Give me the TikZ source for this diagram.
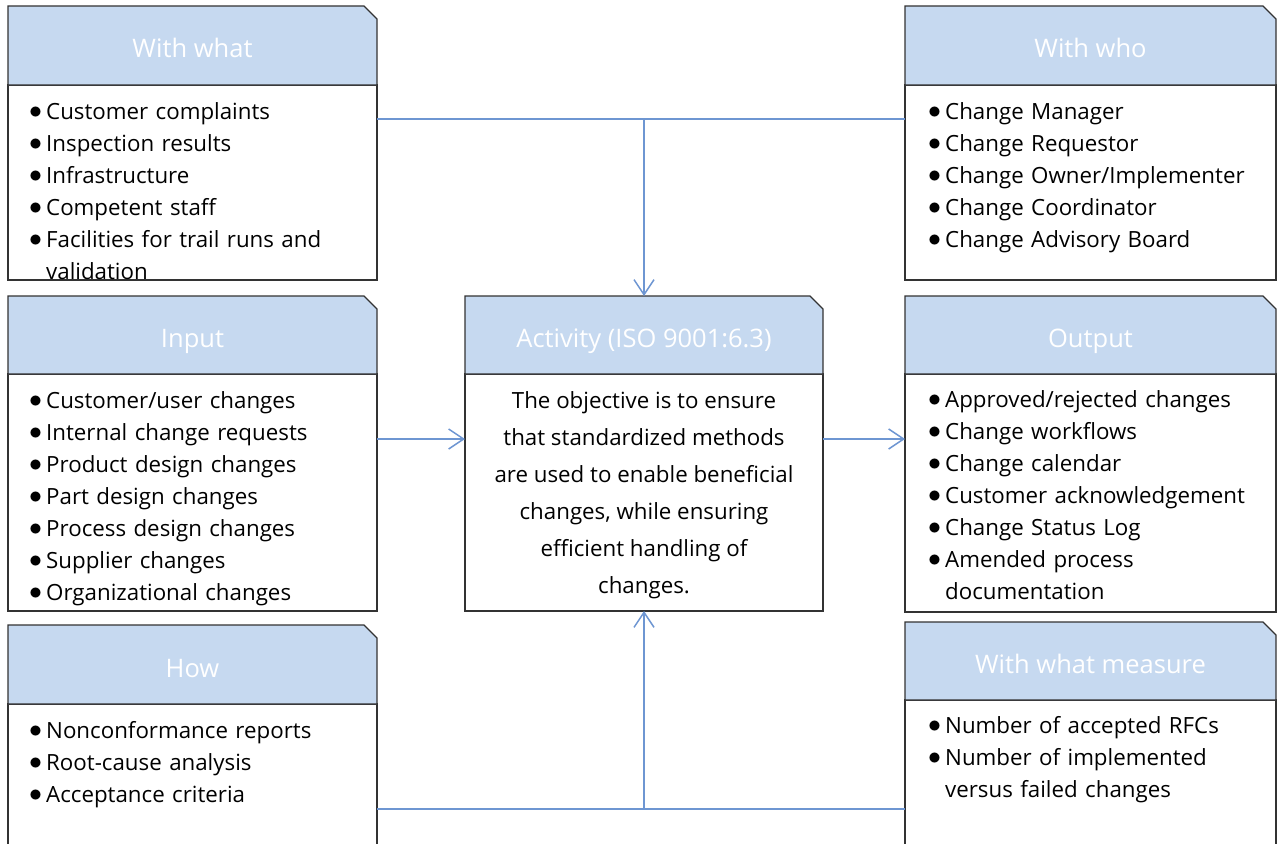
\documentclass[tikz,border=0pt]{standalone}
\usepackage{fontspec}
\setmainfont{Open Sans}
\usetikzlibrary{arrows.meta}
\usetikzlibrary{shapes.misc}
\definecolor{headblue}{RGB}{198,217,240}
\definecolor{linkblue}{RGB}{110,150,210}
\newcommand{\bitem}[1]{\par\hangindent=17pt\hangafter=1\noindent\strut\makebox[17pt][l]{\raisebox{1.5pt}{\scalebox{1.25}{$\bullet$}}}#1\par}
\tikzstyle{box} = [draw=black!80, line width=1.2pt, fill=white, chamfered rectangle, chamfered rectangle corners=north east, chamfered rectangle xsep=6.5pt, chamfered rectangle ysep=6.5pt, inner sep=0pt, outer sep=0pt]
\tikzstyle{head} = [box, fill=headblue, text=white, text height=25pt, text depth=0pt, font=\fontsize{25.5}{30}\selectfont]
\tikzstyle{list} = [anchor=north west, inner sep=0pt, text width=345pt, align=left, font=\fontsize{22.3}{32}\selectfont]
\tikzstyle{link} = [draw=linkblue, line width=1.5pt]
\tikzstyle{arrow} = [link, -{Straight Barb[length=15pt, width=20pt]}]

\begin{document}
\begin{tikzpicture}[x=1pt, y=-1pt]
	\clip (0,0) rectangle (1279,843);
	
	% bodies
	\node[box, minimum width=369pt, minimum height=195pt](whatbody) at (192.5, 182.5){};
	\node[box, minimum width=369pt, minimum height=237pt](inputbody) at (192.5, 492.5){};
	\node[box, minimum width=369pt, minimum height=196pt](howbody) at (192.5, 802){};
	\node[box, minimum width=358pt, minimum height=237pt](actbody) at (644, 492.5){};
	\node[box, minimum width=371pt, minimum height=195pt](whobody) at (1090.5, 182.5){};
	\node[box, minimum width=371pt, minimum height=238pt](outputbody) at (1090.5, 493){};
	\node[box, minimum width=371pt, minimum height=200pt](measurebody) at (1090.5, 800){};
	
	% headers
	\node[head, minimum width=369pt, minimum height=79pt](whathead) at (192.5, 45.5){With what};
	\node[head, minimum width=369pt, minimum height=78pt](inputhead) at (192.5, 335){Input};
	\node[head, minimum width=369pt, minimum height=79pt](howhead) at (192.5, 664.5){How};
	\node[head, minimum width=358pt, minimum height=78pt](acthead) at (644, 335){Activity (ISO 9001:6.3)};
	\node[head, minimum width=371pt, minimum height=79pt](whohead) at (1090.5, 45.5){With who};
	\node[head, minimum width=371pt, minimum height=78pt](outputhead) at (1090.5, 335){Output};
	\node[head, minimum width=371pt, minimum height=78pt](measurehead) at (1090.5, 661){With what measure};
	
	% lists
	\node[list](whatlist) at (29, 87.6){\bitem{Customer complaints}\bitem{Inspection results}\bitem{Infrastructure}\bitem{Competent staff}\bitem{Facilities for trail runs and\newline validation}};
	\node[list](inputlist) at (29, 376.6){\bitem{Customer/user changes}\bitem{Internal change requests}\bitem{Product design changes}\bitem{Part design changes}\bitem{Process design changes}\bitem{Supplier changes}\bitem{Organizational changes}};
	\node[list](howlist) at (29, 706.6){\bitem{Nonconformance reports}\bitem{Root-cause analysis}\bitem{Acceptance criteria}};
	\node[list](wholist) at (928, 87.6){\bitem{Change Manager}\bitem{Change Requestor}\bitem{Change Owner/Implementer}\bitem{Change Coordinator}\bitem{Change Advisory Board}};
	\node[list](outputlist) at (928, 375.6){\bitem{Approved/rejected changes}\bitem{Change workflows}\bitem{Change calendar}\bitem{Customer acknowledgement}\bitem{Change Status Log}\bitem{Amended process\newline documentation}};
	\node[list](measurelist) at (928, 701.6){\bitem{Number of accepted RFCs}\bitem{Number of implemented\newline versus failed changes}};
	\node[anchor=north, inner sep=0pt, align=center, font=\fontsize{22.3}{37}\selectfont](actlist) at (644, 382){\strut The objective is to ensure\\that standardized methods\\are used to enable beneficial\\changes, while ensuring\\efficient handling of\\changes.};
	
	% connectors
	\draw[link](whatbody.east |- 0,119) -- (whobody.west |- 0,119);
	\draw[arrow](acthead.north |- 0,119) -- (acthead.north);
	\draw[arrow](inputbody.east |- 0,439) -- (actbody.west |- 0,439);
	\draw[arrow](actbody.east |- 0,439) -- (outputbody.west |- 0,439);
	\draw[link](howbody.east |- 0,809) -- (measurebody.west |- 0,809);
	\draw[arrow](actbody.south |- 0,809) -- (actbody.south);
\end{tikzpicture}
\end{document}
